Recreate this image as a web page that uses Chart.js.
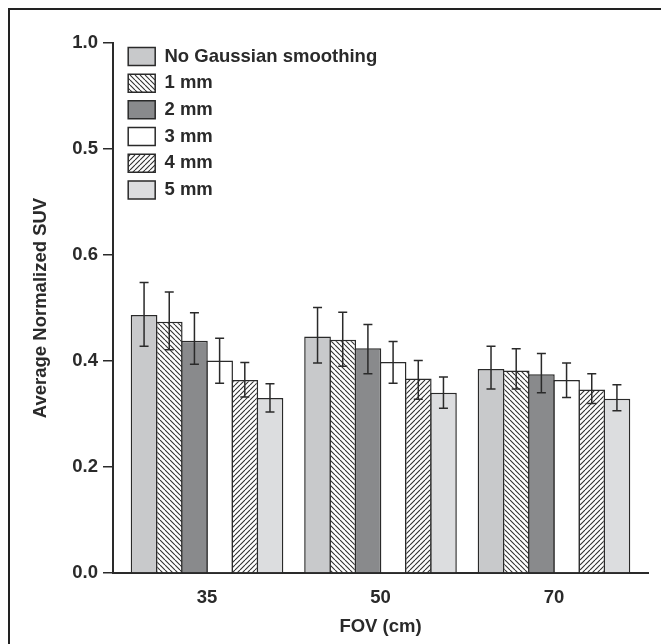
<!DOCTYPE html>
<html>
<head>
<meta charset="utf-8">
<script src="https://cdn.jsdelivr.net/npm/chart.js@4"></script>
<style>
  html, body { margin: 0; padding: 0; background: #fff; overflow: hidden; }
  #wrap { position: relative; width: 661px; height: 644px; overflow: hidden; }
  #frame { position: absolute; left: 8px; top: 8px; width: 700px; height: 700px; border: 2px solid #222; }
  #chart { position: absolute; left: 0; top: 0; }
</style>
</head>
<body>
<div id="wrap">
  <div id="frame"></div>
  <canvas id="chart" width="661" height="644"></canvas>
</div>
<script>
// FOV categories and tick labels (the y labels are printed as in the figure)
const categories = ['35', '50', '70'];
const yTickLabels = ['0.0', '0.2', '0.4', '0.6', '0.5', '1.0'];
const seriesLabels = ['No Gaussian smoothing', '1 mm', '2 mm', '3 mm', '4 mm', '5 mm'];

// mean values per FOV
const noSmooth = [0.487, 0.446, 0.385];
const mm1 = [0.474, 0.440, 0.382];
const mm2 = [0.438, 0.424, 0.375];
const mm3 = [0.401, 0.398, 0.364];
const mm4 = [0.364, 0.367, 0.346];
const mm5 = [0.330, 0.340, 0.329];

// error bar ends (low / high)
const noSmoothLow = [0.428, 0.396, 0.347], noSmoothHigh = [0.548, 0.501, 0.428];
const mm1Low = [0.421, 0.390, 0.347], mm1High = [0.530, 0.492, 0.423];
const mm2Low = [0.394, 0.376, 0.340], mm2High = [0.491, 0.469, 0.414];
const mm3Low = [0.358, 0.358, 0.331], mm3High = [0.443, 0.437, 0.396];
const mm4Low = [0.332, 0.328, 0.320], mm4High = [0.397, 0.401, 0.376];
const mm5Low = [0.304, 0.311, 0.306], mm5High = [0.357, 0.370, 0.355];

const FONT = '"Liberation Sans", Arial, Helvetica, sans-serif';
const INK = '#2a2a2a';
const FS = 18.5;

function hatch(dir) {
    const s = 5;
    const c = document.createElement('canvas');
    c.width = s; c.height = s;
    const g = c.getContext('2d');
    g.fillStyle = '#fff';
    g.fillRect(0, 0, s, s);
    g.strokeStyle = '#333';
    g.lineWidth = 1.1;
    g.beginPath();
    for (const k of [-s, 0, s]) {
        if (dir === 'back') {
            g.moveTo(k, 0); g.lineTo(k + s, s);
        } else {
            g.moveTo(k + s, 0); g.lineTo(k, s);
        }
    }
    g.stroke();
    return g.createPattern(c, 'repeat');
}

const fills = ['#c8c9cb', hatch('back'), '#898a8c', '#ffffff', hatch('fwd'), '#dcdddf'];
const values = [noSmooth, mm1, mm2, mm3, mm4, mm5];
const lows = [noSmoothLow, mm1Low, mm2Low, mm3Low, mm4Low, mm5Low];
const highs = [noSmoothHigh, mm1High, mm2High, mm3High, mm4High, mm5High];

const datasets = seriesLabels.map((label, i) => ({
    label: label,
    data: values[i].map((v, j) => ({ x: j, y: v })),
    backgroundColor: fills[i],
    borderColor: INK,
    borderWidth: 1.5,
    borderSkipped: 'start',
    categoryPercentage: 0.871,
    barPercentage: 1.06
}));

const errorBars = {
    id: 'errorBars',
    afterDatasetsDraw(chart) {
        const ctx = chart.ctx;
        const y = chart.scales.y;
        ctx.save();
        ctx.strokeStyle = INK;
        ctx.lineWidth = 1.5;
        chart.data.datasets.forEach((ds, i) => {
            const meta = chart.getDatasetMeta(i);
            meta.data.forEach((bar, j) => {
                const top = y.getPixelForValue(highs[i][j]);
                const bot = y.getPixelForValue(lows[i][j]);
                ctx.beginPath();
                ctx.moveTo(bar.x, top); ctx.lineTo(bar.x, bot);
                ctx.moveTo(bar.x - 4.5, top); ctx.lineTo(bar.x + 4.5, top);
                ctx.moveTo(bar.x - 4.5, bot); ctx.lineTo(bar.x + 4.5, bot);
                ctx.stroke();
            });
        });
        ctx.restore();
    }
};

// the chartArea legend is laid out from the canvas top; pin it inside the plot
const legendInPlot = {
    id: 'legendInPlot',
    afterLayout(chart) {
        const lg = chart.legend;
        lg.left = chart.chartArea.left + 7;
        lg.top = chart.chartArea.top - 4;
    }
};

new Chart(document.getElementById('chart'), {
    type: 'bar',
    data: { datasets: datasets },
    plugins: [errorBars, legendInPlot],
    options: {
        responsive: false,
        animation: false,
        layout: { padding: { left: 0, right: 13, top: 43, bottom: 0 } },
        plugins: {
            tooltip: { enabled: false },
            legend: {
                position: 'chartArea',
                align: 'start',
                labels: {
                    color: INK,
                    font: { family: FONT, size: FS, weight: 'bold' },
                    boxWidth: 27,
                    boxHeight: 18,
                    padding: 8.2
                }
            }
        },
        scales: {
            x: {
                type: 'linear',
                offset: false,
                min: -0.542,
                max: 2.542,
                afterFit: (s) => { s.height = 71; },
                grid: { display: false, drawTicks: false },
                border: { display: true, color: INK, width: 2 },
                ticks: {
                    stepSize: 1,
                    includeBounds: false,
                    padding: 14,
                    color: INK,
                    font: { family: FONT, size: FS, weight: 'bold' },
                    callback: (v) => categories[v] ?? ''
                },
                title: {
                    display: true,
                    text: 'FOV (cm)',
                    color: INK,
                    font: { family: FONT, size: FS, weight: 'bold' },
                    padding: { top: 0, bottom: 6 }
                }
            },
            y: {
                min: 0,
                max: 1,
                afterFit: (s) => { s.width = 113; },
                grid: { drawOnChartArea: false, drawTicks: true, tickLength: 10, color: INK, lineWidth: 1.5 },
                border: { display: true, color: INK, width: 2 },
                ticks: {
                    stepSize: 0.2,
                    padding: 5,
                    color: INK,
                    font: { family: FONT, size: FS, weight: 'bold' },
                    callback: (v, i) => yTickLabels[i]
                },
                title: {
                    display: true,
                    text: 'Average Normalized SUV',
                    color: INK,
                    font: { family: FONT, size: FS, weight: 'bold' },
                    padding: { top: 29.4, bottom: 0 }
                }
            }
        }
    }
});
</script>
</body>
</html>
